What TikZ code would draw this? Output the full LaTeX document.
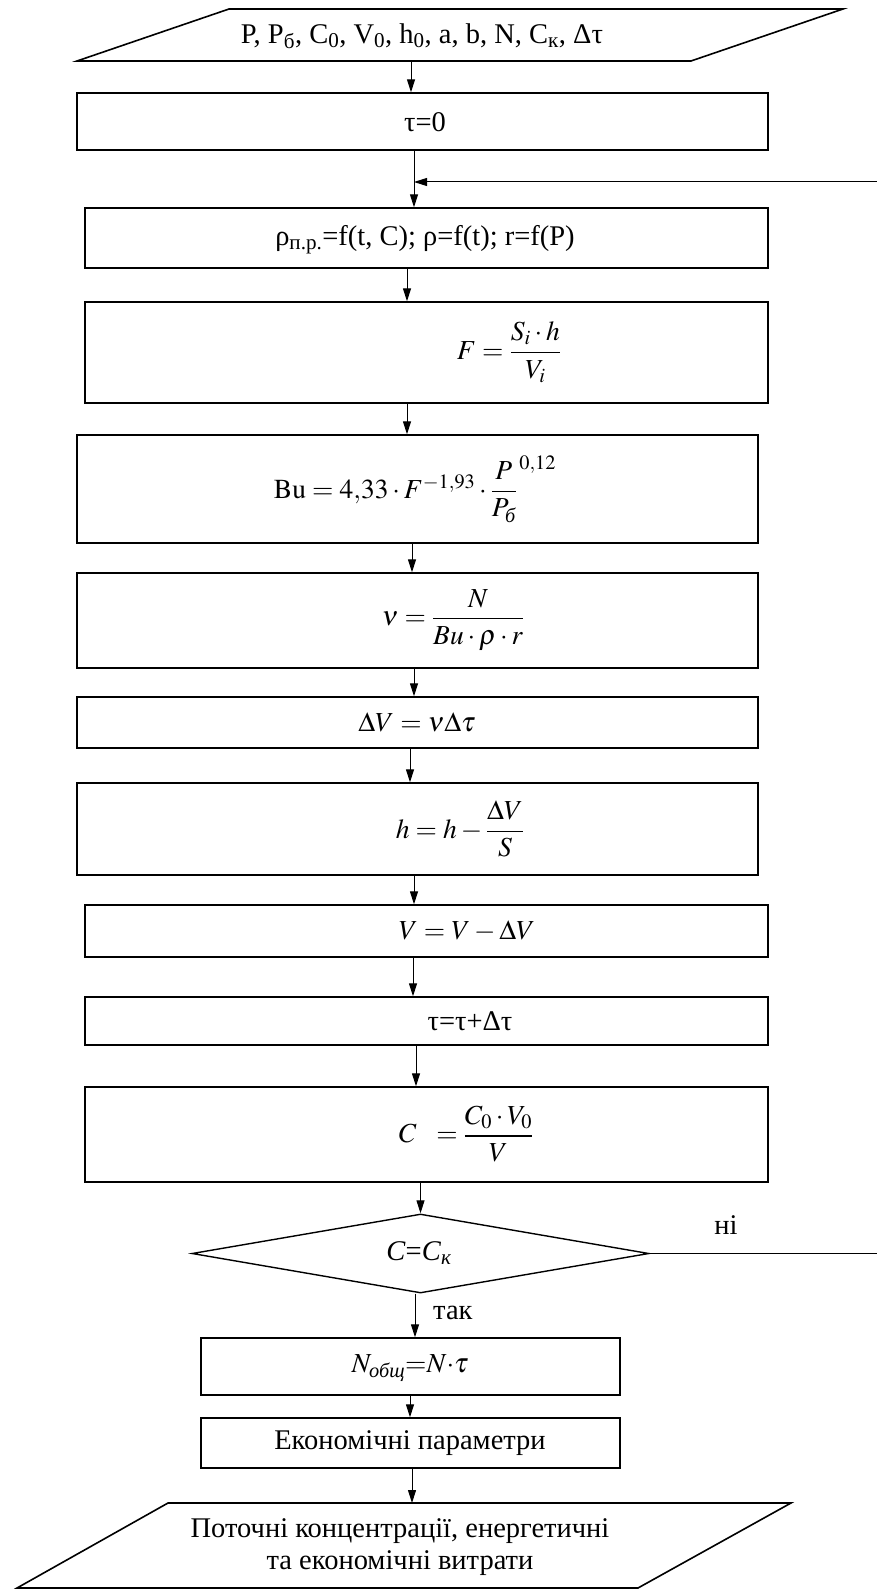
\documentclass[tikz,border=0pt]{standalone}
\usepackage{amsmath}
\usepackage{mathptmx}
\usepackage[no-math]{fontspec}
\setmainfont{Liberation Serif}
\usetikzlibrary{arrows.meta,shapes.geometric}
\tikzset{
  box/.style={draw,line width=1.4pt,rectangle,inner sep=0pt},
  dia/.style={draw,line width=1.4pt,diamond,inner sep=0pt},
  arr/.style={-{Triangle[length=13pt,width=8pt]},line width=1pt},
  txt/.style={inner sep=0pt,font=\fontsize{28.5}{32}\selectfont},
  mth/.style={inner sep=0pt,font=\fontsize{27.5}{32}\selectfont},
  para/.style={draw,line width=1.6pt,line join=miter}
}
\begin{document}
\begin{tikzpicture}[x=1pt,y=-1pt]
\useasboundingbox (0,0) rectangle (877,1589);
% input parallelogram
\draw[para] (229,9) -- (843,9) -- (691,61) -- (77,61) -- cycle;
\node[txt] (inT) at (422,36) {P, P\textsubscript{б}, C\textsubscript{0}, V\textsubscript{0}, h\textsubscript{0}, a, b, N, C\textsubscript{к}, Δτ};
\coordinate (inB) at (411,61);
% boxes
\node[box,minimum width=691pt,minimum height=57pt] (t0) at (422.5,121.5) {};
\node[box,minimum width=683pt,minimum height=60pt] (rho) at (426.5,238) {};
\node[box,minimum width=683pt,minimum height=101pt] (F) at (426.5,352.5) {};
\node[box,minimum width=681pt,minimum height=108pt] (Bu) at (417.5,489) {};
\node[box,minimum width=681pt,minimum height=95pt] (nu) at (417.5,620.5) {};
\node[box,minimum width=681pt,minimum height=51pt] (dV) at (417.5,722.5) {};
\node[box,minimum width=681pt,minimum height=92pt] (hh) at (417.5,829) {};
\node[box,minimum width=683pt,minimum height=52pt] (VV) at (426.5,931) {};
\node[box,minimum width=683pt,minimum height=48pt] (tau) at (426.5,1021) {};
\node[box,minimum width=683pt,minimum height=95pt] (CC) at (426.5,1134.5) {};
\node[dia,minimum width=457pt,minimum height=79pt] (dd) at (420.5,1253.5) {};
\node[box,minimum width=419pt,minimum height=57pt] (Nob) at (410.5,1366.5) {};
\node[box,minimum width=419pt,minimum height=50pt] (Ek) at (410.5,1443) {};
% output parallelogram
\draw[para] (168,1503) -- (791,1503) -- (638,1588) -- (17,1588) -- cycle;
\coordinate (outTop) at (412,1503);
% texts
\node[txt] (t0T) at (425,122) {τ=0};
\node[txt] (rhoT) at (425,240) {ρ\textsubscript{п.р.}=f(t, C); ρ=f(t); r=f(P)};
\node[mth] (FT) at (509,352) {$F=\dfrac{S_i\cdot h}{V_i}$};
\node[mth] (BuT) at (415,489) {$\mathrm{Bu}=4{,}33\cdot F^{-1{,}93}\cdot{\dfrac{P}{P_{\text{\itshape б}}}}^{\,0{,}12}$};
\node[mth] (nuT) at (453,620) {$\nu=\dfrac{N}{Bu\cdot\rho\cdot r}$};
\node[mth] (dVT) at (417,722) {$\Delta V=\nu\Delta\tau$};
\node[mth] (hT) at (460,829) {$h=h-\dfrac{\Delta V}{S}$};
\node[mth] (VT) at (467,931) {$V=V-\Delta V$};
\node[txt] (tauT) at (470,1021) {τ=τ+Δτ};
\node[mth] (CT) at (466,1134) {$C\ \ =\dfrac{C_0\cdot V_0}{V}$};
\node[txt] (ddT) at (419,1253) {\textit{C}=\textit{C}\textsubscript{\textit{к}}};
\node[txt] (noT) at (726,1225) {ні};
\node[txt,anchor=west] (yesT) at (433,1313) {так};
\node[mth] (NobT) at (410,1368) {$N_{\text{\itshape общ}}{=}N{\cdot}\tau$};
\node[txt] (EkT) at (410,1443) {Економічні параметри};
\node[txt,align=center] (outT) at (400,1547) {Поточні концентрації, енергетичні\\та економічні витрати};
% arrow x positions
\coordinate (a1) at (414,0);
\coordinate (a2) at (407,0);
\coordinate (a3) at (412,0);
\coordinate (a4) at (414,0);
\coordinate (a5) at (410,0);
\coordinate (a6) at (413,0);
\coordinate (a7) at (416,0);
\coordinate (a8) at (415,0);
% connectors
\draw[arr] (inB) -- (t0.north -| inB);
\draw[arr] (t0.south -| a1) -- (rho.north -| a1);
\draw[arr] (rho.south -| a2) -- (F.north -| a2);
\draw[arr] (F.south -| a2) -- (Bu.north -| a2);
\draw[arr] (Bu.south -| a3) -- (nu.north -| a3);
\draw[arr] (nu.south -| a4) -- (dV.north -| a4);
\draw[arr] (dV.south -| a5) -- (hh.north -| a5);
\draw[arr] (hh.south -| a4) -- (VV.north -| a4);
\draw[arr] (VV.south -| a6) -- (tau.north -| a6);
\draw[arr] (tau.south -| a7) -- (CC.north -| a7);
\draw[arr] (CC.south -| dd.north) -- (dd.north);
\draw[arr] (dd.south -| a8) -- (Nob.north -| a8);
\draw[arr] (Nob.south -| a5) -- (Ek.north -| a5);
\draw[arr] (Ek.south -| a3) -- (outTop);
% loop back
\coordinate (lpOut) at (877,1253.5);
\coordinate (lpIn) at (877,182);
\coordinate (lpJoin) at (414,182);
\draw[line width=1pt] (dd.east) -- (lpOut);
\draw[arr] (lpIn) -- (lpJoin);
\end{tikzpicture}
\end{document}
